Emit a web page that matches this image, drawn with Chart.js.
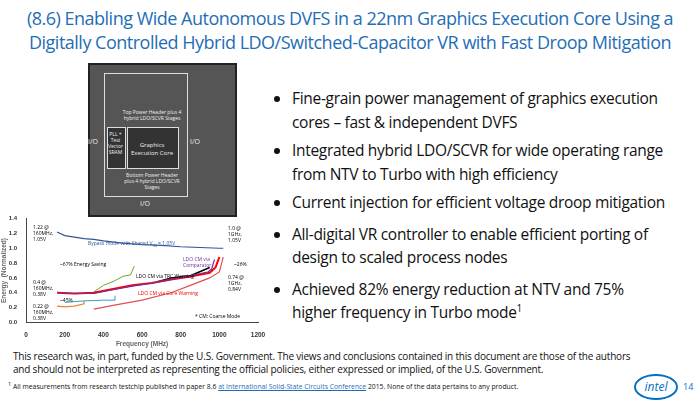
<!DOCTYPE html><html><head><meta charset="utf-8">
<script src="https://cdn.jsdelivr.net/npm/chart.js@4"></script>
<style>
body{margin:0;width:700px;height:400px;background:#fff;font-family:"Open Sans",sans-serif;position:relative;overflow:hidden}
.t{position:absolute;left:0;width:700px;text-align:center;color:#1f6eb5;font-size:18px;letter-spacing:-0.5px;line-height:24px;top:6px;white-space:nowrap}
ul{position:absolute;left:272px;top:87px;margin:0;padding-left:20px;width:400px;font-size:15.5px;letter-spacing:-0.3px;line-height:23.5px;color:#111}
li{margin-bottom:5px}
.f{position:absolute;left:13px;top:350px;font-size:10px;letter-spacing:-0.2px;line-height:13px;color:#111;width:620px}
.n{position:absolute;left:8px;top:380px;font-size:6.8px;color:#111;white-space:nowrap}
.die{position:absolute;left:88px;top:63px;width:145px;height:150px;background:#555;border:2px solid #222}
.s{position:absolute;font-size:5px;color:#eee;text-align:center}
.a{position:absolute;font-size:5px;line-height:6px}
</style></head><body>
<div class="t">(8.6) Enabling Wide Autonomous DVFS in a 22nm Graphics Execution Core Using a<br>Digitally Controlled Hybrid LDO/Switched-Capacitor VR with Fast Droop Mitigation</div>
<ul>
<li>Fine-grain power management of graphics execution cores – fast &amp; independent DVFS</li>
<li>Integrated hybrid LDO/SCVR for wide operating range from NTV to Turbo with high efficiency</li>
<li>Current injection for efficient voltage droop mitigation</li>
<li style="margin-top:8px">All-digital VR controller to enable efficient porting of design to scaled process nodes</li>
<li style="margin-top:8px">Achieved 82% energy reduction at NTV and 75%<br>higher frequency in Turbo mode<span style="font-size:10px;vertical-align:6px;line-height:0">1</span></li>
</ul>
<div class="die">
<div style="position:absolute;left:14px;top:8px;width:82px;height:122px;border:1px solid #ddd"></div>
<div class="s" style="left:32px;top:44px;width:60px">Top Power Header plus 4 hybrid LDO/SCVR Stages</div>
<div style="position:absolute;left:37px;top:62px;width:50px;height:40px;background:#333;border:1px solid #ddd"></div>
<div class="s" style="left:37px;top:76px;width:50px;font-size:6px">Graphics Execution Core</div>
<div style="position:absolute;left:17px;top:62px;width:17px;height:40px;background:#333;border:1px solid #ddd"></div>
<div class="s" style="left:17px;top:66px;width:17px">PLL + Test Vector SRAM</div>
<div class="s" style="left:32px;top:107px;width:60px">Bottom Power Header plus 4 hybrid LDO/SCVR Stages</div>
<div class="s" style="left:-2px;top:72px;font-size:7px">I/O</div>
<div class="s" style="left:100px;top:72px;font-size:7px">I/O</div>
<div class="s" style="left:50px;top:134px;font-size:7px">I/O</div>
</div>
<div style="position:absolute;left:0;top:214px;width:270px;height:134px"><canvas id="c"></canvas></div>
<div class="a" style="left:33px;top:224px">1.22 @<br>160MHz,<br>1.05V</div>
<div class="a" style="left:228px;top:225px">1.0 @<br>1GHz,<br>1.05V</div>
<div class="a" style="left:228px;top:274px">0.74 @<br>1GHz,<br>0.84V</div>
<div class="a" style="left:33px;top:279px">0.4 @<br>160MHz,<br>0.38V</div>
<div class="a" style="left:33px;top:303px">0.22 @<br>160MHz,<br>0.38V</div>
<div class="a" style="left:60px;top:261px">~67% Energy Saving</div>
<div class="a" style="left:60px;top:297px">~45%</div>
<div class="a" style="left:234px;top:261px">~26%</div>
<div class="a" style="left:88px;top:240px;color:#2f5597">Bypass mode with Shared V<sub>IN</sub> = 1.05V</div>
<div class="a" style="left:138px;top:290px;color:#e00">LDO CM via Core Warning</div>
<div class="a" style="left:136px;top:273px">LDO CM via TRC Warning</div>
<div class="a" style="left:183px;top:256px;color:#7030a0">LDO CM via<br>Comparator</div>
<div class="a" style="left:195px;top:313px">* CM: Coarse Mode</div>
<div class="f">This research was, in part, funded by the U.S. Government. The views and conclusions contained in this document are those of the authors and should not be interpreted as representing the official policies, either expressed or implied, of the U.S. Government.</div>
<div class="n"><sup>1</sup> All measurements from research testchip published in paper 8.6 <span style="color:#1f6eb5;text-decoration:underline">at International Solid-State Circuits Conference</span> 2015. None of the data pertains to any product.</div>
<div style="position:absolute;left:634px;top:374px;width:40px;height:22px;border:2px solid #0071c5;border-radius:50%;color:#0071c5;font-size:12px;text-align:center;line-height:22px;font-style:italic">intel</div>
<div style="position:absolute;left:683px;top:380px;font-size:9px;color:#0071c5">14</div>
<script>
const bypassShared=[[160,1.22],[200,1.17],[250,1.15],[300,1.13],[350,1.12],[400,1.1],[500,1.07],[600,1.05],[700,1.04],[800,1.02],[900,1.01],[1000,1.0],[1020,1.0]];
const coreWarn=[[160,0.4],[250,0.39],[350,0.4],[450,0.45],[550,0.5],[650,0.53],[750,0.58],[850,0.62],[950,0.67],[980,0.74],[1000,0.88]];
const comparator=[[160,0.4],[250,0.39],[350,0.39],[450,0.44],[550,0.49],[650,0.53],[750,0.58],[850,0.63],[940,0.68],[960,0.72],[975,0.85]];
const trc=[[680,0.55],[750,0.6],[850,0.63],[950,0.74]];
const cmOff=[[350,0.41],[400,0.5],[450,0.55],[500,0.62],[540,0.64],[560,0.76]];
const scvr32=[[200,0.27],[300,0.29],[400,0.3],[460,0.3],[460,0.36]];
const scvr21=[[160,0.22],[200,0.21],[250,0.22],[300,0.25],[300,0.29]];
const bypassEq=[[350,0.18],[450,0.23],[600,0.3],[750,0.4],[850,0.5],[950,0.6],[1000,0.68],[1020,0.88]];
const xTicks=[0,200,400,600,800,1000,1200];
const yTicks=[0,0.2,0.4,0.6,0.8,1.0,1.2,1.4];
const mk=(d,c,w)=>({data:d.map(p=>({x:p[0],y:p[1]})),borderColor:c,borderWidth:w||1,pointRadius:0,showLine:true,fill:false,tension:0});
new Chart(document.getElementById('c'),{type:'scatter',data:{datasets:[
mk(bypassShared,'#2f5597',1.2),mk(bypassEq,'#e05050',1.2),mk(comparator,'#7030a0',1.2),mk(coreWarn,'#ff0000',2),mk(trc,'#000',1.5),mk(cmOff,'#70a030',1),mk(scvr32,'#30a0c0',1),mk(scvr21,'#f08030',1.2)]},
options:{responsive:true,maintainAspectRatio:false,animation:false,plugins:{legend:{display:false},tooltip:{enabled:false}},
layout:{padding:{top:4,right:12}},
scales:{x:{type:'linear',min:0,max:1200,afterBuildTicks:a=>{a.ticks=xTicks.map(v=>({value:v}))},grid:{display:false},border:{color:'#444'},ticks:{font:{size:6.5,weight:'bold'},color:'#333',padding:1,callback:v=>String(v)},title:{display:true,text:'Frequency (MHz)',font:{size:6.5,weight:'bold'},padding:0}},
y:{min:0,max:1.4,afterBuildTicks:a=>{a.ticks=yTicks.map(v=>({value:v}))},grid:{display:false},border:{color:'#444'},ticks:{font:{size:6,weight:'bold'},color:'#333',padding:1,callback:v=>v.toFixed(1)},title:{display:true,text:'Energy  (Normalized)',font:{size:6.5,weight:'bold'},padding:0}}}}});
</script></body></html>
